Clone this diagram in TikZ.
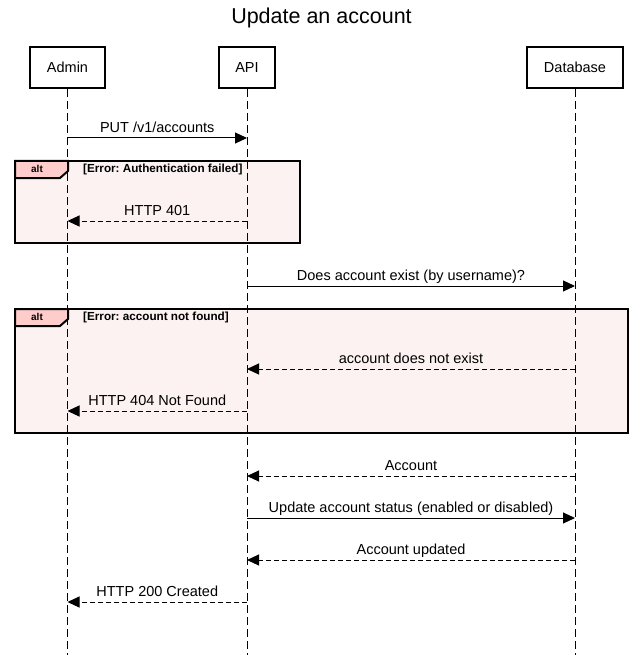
\documentclass[tikz,border=0pt]{standalone}
\usepackage{fontspec}
\setmainfont{Liberation Sans}
\usetikzlibrary{arrows.meta, positioning, calc}
\definecolor{altfill}{RGB}{253, 242, 242}
\definecolor{alttab}{RGB}{255, 204, 204}
\frenchspacing

\begin{document}
\begin{tikzpicture}[x=1pt, y=-1pt,
  actor/.style={draw, line width=2pt, minimum height=41pt, inner sep=0pt, font=\fontsize{14.5}{17}\selectfont},
  lifeline/.style={line width=1pt, dash pattern=on 8pt off 4pt},
  call/.style={line width=1pt, -{Triangle[length=12pt, width=11pt]}},
  reply/.style={call, dash pattern=on 5pt off 3pt},
  msglabel/.style={font=\fontsize{14.5}{17}\selectfont, anchor=base, yshift=5.5pt, inner sep=0pt},
  frame/.style={draw, line width=2pt, fill=altfill},
  alttag/.style={font=\bfseries\fontsize{10}{12}\selectfont, anchor=base, inner sep=0pt},
  guard/.style={font=\bfseries\fontsize{11.7}{13}\selectfont, anchor=base west, inner sep=0pt}]
  \useasboundingbox (0,0) rectangle (643,655);

  % Title
  \node[font=\fontsize{21.5}{26}\selectfont, anchor=base] (title) at (321.5, 23.3) {Update an account};

  % Participants
  \node[actor, minimum width=75pt] (admin) at (67.5, 67.5) {Admin};
  \node[actor, minimum width=56pt] (api) at (247, 67.5) {API};
  \node[actor, minimum width=96pt] (db) at (575, 67.5) {Database};
  \coordinate (end) at (0, 655);

  % alt: authentication failed
  \draw[frame] (15, 161) rectangle (300, 243);
  \draw[line width=2pt, fill=alttab] (15, 161) -- (68, 161) -- (68, 171) -- (60, 178) -- (15, 178) -- cycle;
  \node[alttag] (alt1) at (37, 172.5) {alt};
  \node[guard] (guard1) at (83, 172.5) {[Error: Authentication failed]};

  % alt: account not found
  \draw[frame] (15, 309) rectangle (628, 433);
  \draw[line width=2pt, fill=alttab] (15, 309) -- (68, 309) -- (68, 319) -- (60, 326) -- (15, 326) -- cycle;
  \node[alttag] (alt2) at (37, 320.5) {alt};
  \node[guard] (guard2) at (83, 320.5) {[Error: account not found]};

  % Lifelines
  \foreach \p in {admin, api, db} {
    \draw[lifeline] (\p.south) -- (\p.south |- end);
  }

  % Messages
  \coordinate (m1) at (0, 138);
  \draw[call] (admin |- m1) -- node[msglabel] (l1) {PUT /v1/accounts} (api |- m1);

  \coordinate (m2) at (0, 221);
  \draw[reply] (api |- m2) -- node[msglabel] (l2) {HTTP 401} (admin |- m2);

  \coordinate (m3) at (0, 286);
  \draw[call] (api |- m3) -- node[msglabel] (l3) {Does account exist (by username)?} (db |- m3);

  \coordinate (m4) at (0, 369);
  \draw[reply] (db |- m4) -- node[msglabel] (l4) {account does not exist} (api |- m4);

  \coordinate (m5) at (0, 411);
  \draw[reply] (api |- m5) -- node[msglabel] (l5) {HTTP 404 Not Found} (admin |- m5);

  \coordinate (m6) at (0, 476);
  \draw[reply] (db |- m6) -- node[msglabel] (l6) {Account} (api |- m6);

  \coordinate (m7) at (0, 518);
  \draw[call] (api |- m7) -- node[msglabel] (l7) {Update account status (enabled or disabled)} (db |- m7);

  \coordinate (m8) at (0, 560);
  \draw[reply] (db |- m8) -- node[msglabel] (l8) {Account updated} (api |- m8);

  \coordinate (m9) at (0, 602);
  \draw[reply] (api |- m9) -- node[msglabel] (l9) {HTTP 200 Created} (admin |- m9);
\end{tikzpicture}
\end{document}
